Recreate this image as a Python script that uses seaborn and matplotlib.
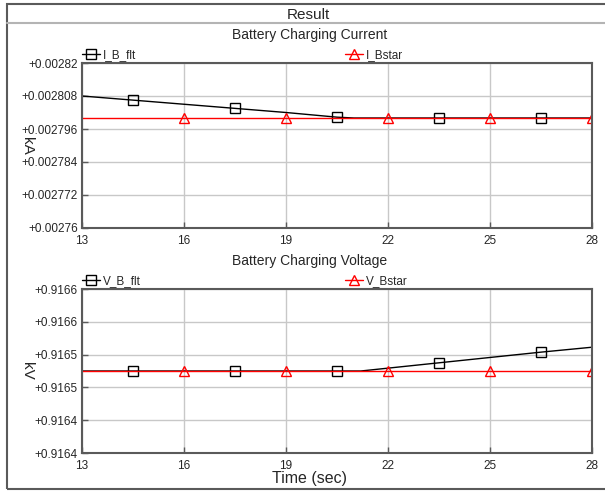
import matplotlib
matplotlib.use("Agg")
import matplotlib.pyplot as plt
from matplotlib.lines import Line2D
from matplotlib.patches import Rectangle
import seaborn as sns

# ---------------- data ----------------
t_I_flt = [13, 14.5, 16, 17.5, 19, 20.5, 21, 22, 23.5, 25, 26.5, 28]
I_B_flt = [0.002808, 0.0028065, 0.002805, 0.0028035, 0.002802, 0.0028003,
           0.0028, 0.0028, 0.0028, 0.0028, 0.0028, 0.0028]
I_flt_marks = [1, 3, 5, 8, 10]

t_star = [13, 16, 19, 22, 25, 28]
I_Bstar = [0.0028, 0.0028, 0.0028, 0.0028, 0.0028, 0.0028]
star_marks = [1, 2, 3, 4, 5]

t_V_flt = [13, 14.5, 17.5, 20.5, 21.2, 23.5, 26.5, 28]
V_B_flt = [0.91650, 0.91650, 0.91650, 0.91650, 0.91650, 0.91651, 0.916523, 0.916529]
V_flt_marks = [1, 2, 3, 5, 6]

V_Bstar = [0.9165, 0.9165, 0.9165, 0.9165, 0.9165, 0.9165]

x_ticks = [13, 16, 19, 22, 25, 28]
I_ticks = [0.00276, 0.002772, 0.002784, 0.002796, 0.002808, 0.00282]
I_labels = ["+0.00276", "+0.002772", "+0.002784", "+0.002796", "+0.002808", "+0.00282"]
V_ticks = [0.9164, 0.91644, 0.91648, 0.91652, 0.91656, 0.9166]
V_labels = ["+0.9164", "+0.9164", "+0.9165", "+0.9165", "+0.9166", "+0.9166"]

# ---------------- style ----------------
sns.set_style("white")
plt.rcParams["font.family"] = ["Liberation Sans", "DejaVu Sans"]

W, H = 605, 492
fig = plt.figure(figsize=(W / 100, H / 100), dpi=100)

def fx(px):
    return px / W

def fy(py):
    return 1 - py / H

spine_c = "#5a5a5a"
grid_c = "#c8c8c8"
tick_fs = 8.5

ax1 = fig.add_axes([fx(82), fy(228), fx(592) - fx(82), fy(63) - fy(228)])
ax2 = fig.add_axes([fx(82), fy(453), fx(592) - fx(82), fy(289) - fy(453)])

sq_kw = dict(marker="s", markersize=7, mfc="none", mec="black", mew=1.0)
tri_kw = dict(marker="^", markersize=7, mfc="none", mec="red", mew=1.0)

sns.lineplot(x=t_I_flt, y=I_B_flt, ax=ax1, color="black", lw=1.0,
             markevery=I_flt_marks, **sq_kw)
sns.lineplot(x=t_star, y=I_Bstar, ax=ax1, color="red", lw=1.0,
             markevery=star_marks, **tri_kw)

sns.lineplot(x=t_V_flt, y=V_B_flt, ax=ax2, color="black", lw=1.0,
             markevery=V_flt_marks, **sq_kw)
sns.lineplot(x=t_star, y=V_Bstar, ax=ax2, color="red", lw=1.0,
             markevery=star_marks, **tri_kw)

for ax, yt, yl, ylab in [(ax1, I_ticks, I_labels, "kA"), (ax2, V_ticks, V_labels, "kV")]:
    ax.set_xlim(13, 28)
    ax.set_ylim(yt[0], yt[-1])
    ax.set_xticks(x_ticks)
    ax.set_xticklabels([str(v) for v in x_ticks])
    ax.set_yticks(yt)
    ax.set_yticklabels(yl)
    ax.grid(True, color=grid_c, lw=1.0)
    ax.set_axisbelow(True)
    for s in ax.spines.values():
        s.set_visible(True)
        s.set_color(spine_c)
        s.set_linewidth(1.5)
    ax.tick_params(direction="in", length=4, width=1, color=spine_c,
                   labelsize=tick_fs, pad=3, left=True, bottom=True)
    ax.tick_params(axis="x", pad=5)
    ax.set_xlabel("")
    ax.set_ylabel(ylab, rotation=270, fontsize=11, va="center")
    ax.yaxis.set_label_coords(-0.108, 0.5)
    if ax.get_legend() is not None:
        ax.get_legend().remove()

# ---------------- texts ----------------
fig.text(fx(308), fy(15), "Result", ha="center", va="center", fontsize=11)
fig.text(fx(310), fy(35), "Battery Charging Current", ha="center", va="center", fontsize=10)
fig.text(fx(310), fy(261), "Battery Charging Voltage", ha="center", va="center", fontsize=10)
fig.text(fx(309), fy(479), "Time (sec)", ha="center", va="center", fontsize=11.5)

# ---------------- legends ----------------
def add_leg(label, color, marker, x_px, y_px):
    h = Line2D([], [], color=color, lw=1.0, marker=marker, markersize=7,
               mfc="none", mec=color, mew=1.0)
    leg = fig.legend([h], [label], loc="center left",
                     bbox_to_anchor=(fx(x_px), fy(y_px)), frameon=False,
                     borderpad=0, borderaxespad=0, handlelength=1.55,
                     handletextpad=0.25, numpoints=1, fontsize=8.5)
    return leg

add_leg("I_B_flt", "black", "s", 82, 55)
add_leg("I_Bstar", "red", "^", 345, 55)
add_leg("V_B_flt", "black", "s", 82, 281)
add_leg("V_Bstar", "red", "^", 345, 281)

# ---------------- frame ----------------
fig.add_artist(Rectangle((fx(7), fy(489)), fx(610) - fx(7), fy(4) - fy(489),
                         transform=fig.transFigure, fill=False,
                         edgecolor=spine_c, lw=1.5, clip_on=False))
fig.add_artist(Line2D([fx(7), 1.0], [fy(23), fy(23)], transform=fig.transFigure,
                      color="#b4b4b4", lw=1.5))

fig.savefig("out.png", dpi=100)
